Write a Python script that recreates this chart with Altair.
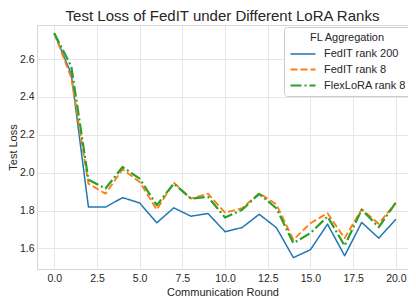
import altair as alt
import pandas as pd

rounds = list(range(21))
series_names = ["FedIT rank 200", "FedIT rank 8", "FlexLoRA rank 8"]
fedit200 = [2.737, 2.52, 1.819, 1.818, 1.868, 1.840, 1.735, 1.814, 1.770, 1.784, 1.688,
            1.71, 1.78, 1.71, 1.551, 1.593, 1.728, 1.561, 1.737, 1.654, 1.754]
fedit8 = [2.737, 2.50, 1.942, 1.889, 2.018, 1.951, 1.805, 1.947, 1.863, 1.889, 1.789,
          1.812, 1.891, 1.833, 1.646, 1.733, 1.786, 1.654, 1.807, 1.730, 1.842]
flex8 = [2.737, 2.56, 1.963, 1.916, 2.030, 1.968, 1.828, 1.942, 1.863, 1.872, 1.763,
         1.804, 1.888, 1.812, 1.628, 1.681, 1.768, 1.614, 1.804, 1.712, 1.842]
x_ticks = [0.0, 2.5, 5.0, 7.5, 10.0, 12.5, 15.0, 17.5, 20.0]
y_ticks = [1.6, 1.8, 2.0, 2.2, 2.4, 2.6]

rows = []
for name, vals in zip(series_names, [fedit200, fedit8, flex8]):
    for r, v in zip(rounds, vals):
        rows.append({"round": r, "loss": v, "series": name})
df = pd.DataFrame(rows)

FONT = "Liberation Sans"
TXT = "#262626"


def leg():
    return alt.Legend(orient="none", legendX=247, legendY=2)


chart = alt.Chart(df).mark_line(strokeCap="butt", strokeJoin="round").encode(
    x=alt.X("round:Q", scale=alt.Scale(domain=[-1.01, 20.71], nice=False, zero=False),
            axis=alt.Axis(values=x_ticks, format=".1f", title="Communication Round")),
    y=alt.Y("loss:Q", scale=alt.Scale(domain=[1.491, 2.78], nice=False, zero=False),
            axis=alt.Axis(values=y_ticks, format=".1f", title="Test Loss")),
    color=alt.Color("series:N", sort=series_names, title="FL Aggregation", legend=leg(),
                    scale=alt.Scale(domain=series_names, range=["#1f77b4", "#ff7f0e", "#2ca02c"])),
    strokeDash=alt.StrokeDash("series:N", sort=series_names, title="FL Aggregation", legend=leg(),
                              scale=alt.Scale(domain=series_names,
                                              range=[[1, 0], [7, 3], [11, 3, 2, 3]])),
    strokeWidth=alt.StrokeWidth("series:N", sort=series_names, title="FL Aggregation", legend=leg(),
                                scale=alt.Scale(domain=series_names, range=[1.5, 2.2, 2.5])),
    order=alt.Order("round:Q"),
).properties(
    width=371, height=244,
    padding={"left": 29, "top": 17, "right": 0, "bottom": 33},
    autosize=alt.AutoSizeParams(type="none"),
    title=alt.Title("Test Loss of FedIT under Different LoRA Ranks", fontSize=15,
                    font=FONT, color=TXT, fontWeight="normal", offset=1),
).configure_view(
    stroke="#d6d6d6", strokeWidth=1
).configure_axis(
    grid=True, gridColor="#e6e6e6", gridWidth=1, domain=False, ticks=False,
    labelFont=FONT, labelFontSize=10.5, labelColor=TXT, labelPadding=4,
    titleFont=FONT, titleFontSize=11, titleColor=TXT, titleFontWeight="normal",
    titlePadding=3,
).configure_axisY(
    labelPadding=3, titlePadding=1
).configure_legend(
    padding=5,
    strokeColor="#cccccc", fillColor="white", cornerRadius=3,
    titleFont=FONT, titleFontSize=11, titleColor=TXT, titleFontWeight="normal",
    titleAnchor="middle", titlePadding=5,
    labelFont=FONT, labelFontSize=11, labelColor=TXT, labelOffset=22,
    symbolType="M-1,0H4", symbolSize=100, rowPadding=4.5,
)

chart.save("out.html", embed_options={"renderer": "svg", "actions": False})
